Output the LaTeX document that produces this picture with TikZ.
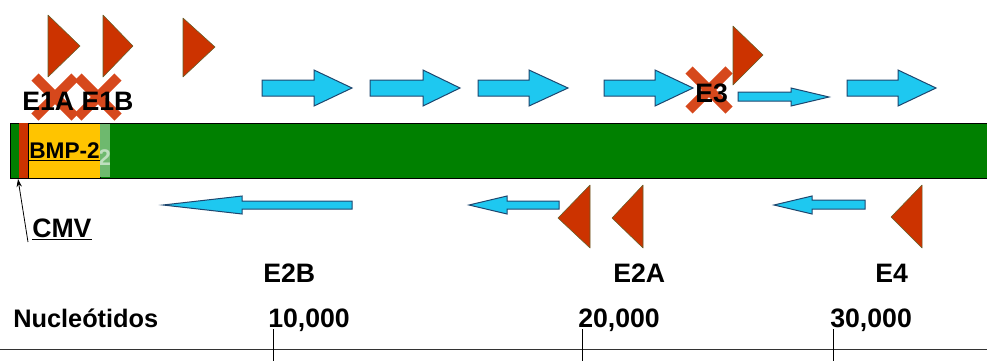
\documentclass[tikz,border=0pt]{standalone}
\usepackage{fontspec}
\setmainfont{Liberation Sans}
\usetikzlibrary{arrows.meta}
\definecolor{exred}{RGB}{204,51,0}
\definecolor{excross}{RGB}{214,72,28}
\definecolor{excyan}{RGB}{30,200,240}
\definecolor{exblue}{RGB}{30,70,110}
\definecolor{exgreen}{RGB}{0,128,0}
\definecolor{exyellow}{RGB}{255,196,0}
\definecolor{exlight}{RGB}{110,185,110}
% forward gene arrow: tail, head base, tip, shaft top, shaft bottom, head top, head bottom
\newcommand\rightflow[7]{\draw[flow] (#1,#4) -- (#2,#4) -- (#2,#6) -- (#3,{(#6+#7)/2}) -- (#2,#7) -- (#2,#5) -- (#1,#5) -- cycle;}
% reverse gene arrow: tip, head base, tail, shaft top, shaft bottom, head top, head bottom
\newcommand\leftflow[7]{\draw[flow] (#3,#4) -- (#2,#4) -- (#2,#6) -- (#1,{(#6+#7)/2}) -- (#2,#7) -- (#2,#5) -- (#3,#5) -- cycle;}
\begin{document}
\begin{tikzpicture}[x=0.75pt,y=-0.75pt,
  tri/.style={fill=exred, draw=olive!60!black, line width=0.4pt, line join=round},
  flow/.style={fill=excyan, draw=exblue, line width=0.75pt, line join=miter},
  lbl/.style={inner sep=0pt, anchor=base west, font=\bfseries\fontsize{20}{24}\selectfont},
  xmark/.style={draw=excross, line width=7.5pt},
]
\useasboundingbox (0,0) rectangle (987,361);

% promoter triangles above the genome
\draw[tri] (48,15) -- (80,46) -- (48,77) -- cycle;
\draw[tri] (103,15) -- (133,46) -- (103,77) -- cycle;
\draw[tri] (183,18) -- (215,47) -- (183,77) -- cycle;

% forward transcription units
\rightflow{262}{314}{352}{80}{96}{70}{106}
\rightflow{370}{423}{460}{80}{96}{70}{106}
\rightflow{478}{529}{568}{80}{96}{70}{106}
\rightflow{604}{655}{693}{80}{96}{70}{106}
\rightflow{738}{791}{829}{92}{101}{88}{106}
\rightflow{847}{898}{936}{80}{96}{70}{106}

% deleted regions
\foreach \cx/\cy in {55/97, 98/97, 709/90} {
  \draw[xmark] (\cx-20,\cy-20) -- (\cx+20,\cy+20);
  \draw[xmark] (\cx-20,\cy+20) -- (\cx+20,\cy-20);
}
\draw[tri] (733,26) -- (763,55) -- (733,85) -- cycle;

\node[lbl] (e1) at (22,110) {E1A E1B};
\node[lbl] (e3) at (695,102) {E3};

% genome bar with the inserted cassette
\fill[exgreen] (10,123) rectangle (987,178);
\draw[line width=0.75pt] (987,123) -- (10,123) -- (10,178) -- (987,178);
\fill[exred] (19,123) rectangle (28,178);
\draw[fill=exyellow, line width=0.5pt] (28,123) rectangle (100,178);
\fill[exlight] (100,124) rectangle (110,177);
\begin{scope}
  \clip (100,124) rectangle (110,177);
  \node[inner sep=0pt, anchor=base west, text=white!55!exlight,
        font=\bfseries\fontsize{17}{20}\selectfont] (ghost) at (98,165) {2};
\end{scope}
\node[inner sep=0pt, anchor=base west, font=\bfseries\fontsize{17}{20}\selectfont]
  (bmp) at (29,158) {\underline{BMP-2}};

% CMV promoter pointer
\coordinate (cmvsite) at (18,179);
\coordinate (cmvfoot) at (28,242);
\draw[line width=0.6pt, -{Stealth[length=6pt,width=4pt]}] (cmvfoot) -- (cmvsite);
\node[lbl] (cmv) at (32,237) {\underline{CMV}};

% reverse transcription units
\leftflow{163}{242}{352}{201}{209}{196}{214}
\leftflow{469}{507}{559}{201}{209}{196}{214}
\leftflow{774}{812}{865}{200}{209}{196}{214}

% promoter triangles below the genome
\draw[tri] (590,185) -- (558,218) -- (590,248) -- cycle;
\draw[tri] (643,185) -- (612,218) -- (643,248) -- cycle;
\draw[tri] (922,185) -- (891,217) -- (922,248) -- cycle;

% region labels
\node[lbl] (e2b) at (263,282) {E2B};
\node[lbl] (e2a) at (613,282) {E2A};
\node[lbl] (e4) at (875,282) {E4};

% nucleotide scale
\node[lbl, font=\bfseries\fontsize{19}{23}\selectfont] (nuc) at (13,327) {Nucleótidos};
\node[lbl] (k10) at (268,327) {10,000};
\node[lbl] (k20) at (578,327) {20,000};
\node[lbl] (k30) at (830,327) {30,000};
\coordinate (axl) at (0,349);
\coordinate (axr) at (987,349);
\draw[line width=0.75pt, black!80] (axl) -- (axr);
\foreach \tx in {273,582,833}
  \draw[line width=0.6pt] (\tx,329) -- (\tx,361);
\end{tikzpicture}
\end{document}
